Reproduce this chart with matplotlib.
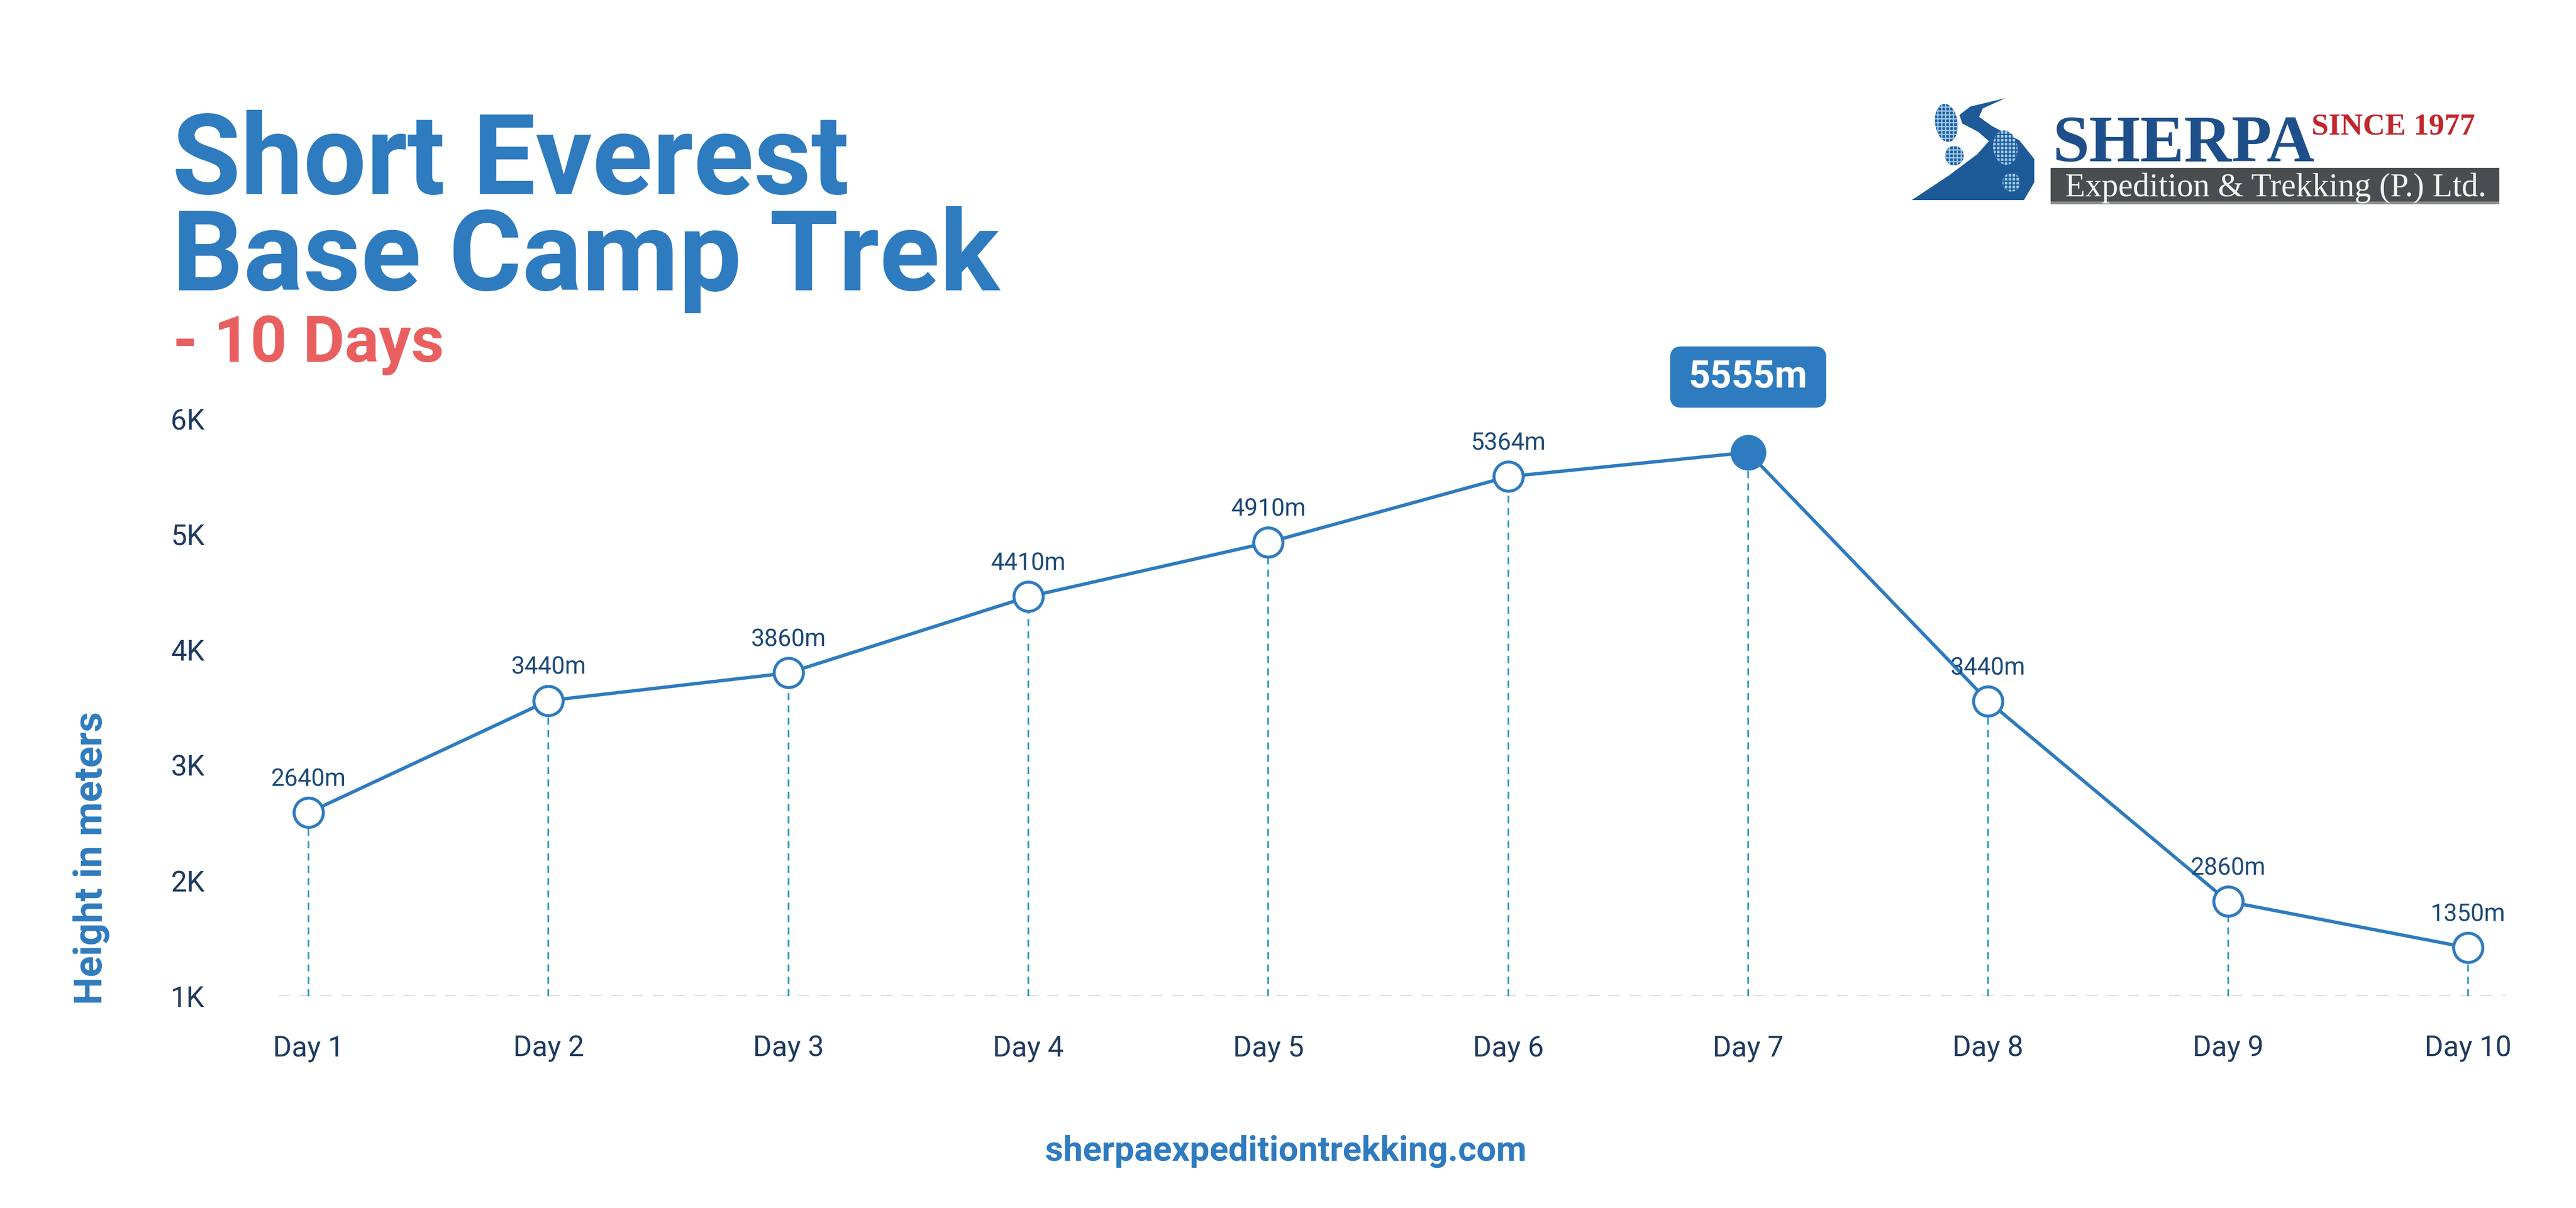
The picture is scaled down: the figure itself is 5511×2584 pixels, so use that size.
import matplotlib
matplotlib.use("Agg")
import matplotlib.pyplot as plt
from matplotlib import transforms as mtransforms
from matplotlib.patches import Ellipse, FancyBboxPatch, Polygon, Rectangle

W, H, DPI = 5511, 2584, 100

# data
days = [f"Day {i}" for i in range(1, 11)]
heights = [2590, 3560, 3800, 4460, 4930, 5500, 5710, 3555, 1820, 1420]
labels = ["2640m", "3440m", "3860m", "4410m", "4910m", "5364m", "5555m",
          "3440m", "2860m", "1350m"]
peak = 6
yticks = [1000, 2000, 3000, 4000, 5000, 6000]
ytick_labels = ["1K", "2K", "3K", "4K", "5K", "6K"]

BLUE = "#2f7bbf"
NAVY = "#1f3a5f"
LABEL = "#1c4a78"
TEAL = "#2a9bbd"
GRID = "#d9d9d9"
RED = "#e95f5f"
ROAD = "#1d5a97"

plt.rcParams["font.family"] = ["Roboto", "DejaVu Sans"]
plt.rcParams["lines.scale_dashes"] = False
plt.rcParams["hatch.linewidth"] = 2.0

fig = plt.figure(figsize=(W / DPI, H / DPI), dpi=DPI)
fig.patch.set_facecolor("white")
# pixel coords measured from the top-left corner
TOP = mtransforms.Affine2D().scale(1, -1).translate(0, H)


def fit(t, target, vertical=False):
    r = fig.canvas.get_renderer()
    bb = t.get_window_extent(r)
    cur = bb.height if vertical else bb.width
    t.set_fontsize(t.get_fontsize() * target / cur)


# ---- chart
ax = fig.add_axes([596 / W, 1 - 2131 / H, (5361 - 596) / W, (2131 - 896) / H])
x = list(range(len(days)))
ax.set_xlim(-0.125, 9.158)
ax.set_ylim(1000, 6000)
for s in ax.spines.values():
    s.set_visible(False)

ax.axhline(1000, color=GRID, lw=3.0, dashes=(18, 14), zorder=1)
ax.vlines(x, 1000, heights, colors=TEAL, lw=2.6, linestyles=(0, (11, 8)), zorder=1)
ax.plot(x, heights, color=BLUE, lw=5.2, zorder=2, solid_capstyle="round")

open_idx = [i for i in x if i != peak]
ax.plot(open_idx, [heights[i] for i in open_idx], "o", ms=45, mfc="white",
        mec=BLUE, mew=4.6, ls="none", zorder=3)
ax.plot([peak], [heights[peak]], "o", ms=54, color=BLUE, zorder=3)

for i in open_idx:
    ax.annotate(labels[i], (i, heights[i]), xytext=(0, 51),
                textcoords="offset points", ha="center", va="center",
                fontsize=37, color=LABEL, zorder=4)

# highlighted peak: rounded badge above the marker
px, py = ax.transData.transform((peak, heights[peak]))
badge = FancyBboxPatch((px - 167, py + 161 - 65.5), 334, 131,
                       boxstyle="round,pad=0,rounding_size=24",
                       transform=mtransforms.IdentityTransform(),
                       fc=BLUE, ec="none", zorder=5, clip_on=False)
ax.add_patch(badge)
ax.annotate(labels[peak], (peak, heights[peak]), xytext=(0, 116),
            textcoords="offset points", ha="center", va="center",
            fontsize=58, fontweight="bold", color="white", zorder=6)

ax.set_xticks(x, days)
ax.set_yticks(yticks, ytick_labels)
ax.tick_params(length=0, labelcolor=NAVY, labelsize=44)
ax.tick_params(axis="x", pad=60)
ax.tick_params(axis="y", pad=114)

ylab = fig.text(196, 1836, "Height in meters", transform=TOP, rotation=90,
                ha="center", va="center", fontsize=61, fontweight="bold", color=BLUE)
fit(ylab, 627, vertical=True)

# ---- title (baseline of the last line)
title = fig.text(368, 621, "Short Everest\nBase Camp Trek", transform=TOP,
                 fontsize=170, fontweight="bold", color=BLUE, va="baseline",
                 linespacing=0.87)
fit(title, 1770)
sub = fig.text(370, 774, "- 10 Days", transform=TOP, fontsize=98,
               fontweight="bold", color=RED, va="baseline")
fit(sub, 580)

# ---- logo (rough redraw)
road = [(4090, 428), (4170, 375), (4230, 330), (4255, 302), (4232, 282),
        (4198, 264), (4192, 246), (4215, 228), (4290, 210),
        (4242, 232), (4234, 250), (4262, 270), (4320, 300), (4352, 340),
        (4352, 390), (4330, 428)]
fig.add_artist(Polygon(road, closed=True, transform=TOP, fc=ROAD, ec="none"))
for (cx, cy, w, h, fc, hc) in [
        (4164, 263, 48, 82, ROAD, "#9cc8ea"),
        (4181, 333, 40, 42, ROAD, "#9cc8ea"),
        (4290, 316, 52, 74, "#9fcbec", ROAD),
        (4303, 390, 38, 40, "#9fcbec", ROAD)]:
    fig.add_artist(Ellipse((cx, cy), w, h, angle=-8, transform=TOP, fc=fc,
                           ec=hc, lw=0, hatch="++"))

fig.add_artist(Rectangle((4387, 359), 960, 78, transform=TOP, fc="#4a4d50", ec="none"))
fig.add_artist(Rectangle((4387, 431), 960, 6, transform=TOP, fc="#8c8c8c", ec="none"))
sh = fig.text(4392, 345, "SHERPA", transform=TOP, family="Liberation Serif",
              fontsize=100, fontweight="bold", color="#1f4f8a", va="baseline")
fit(sh, 560)
since = fig.text(4945, 287, "SINCE 1977", transform=TOP, family="Liberation Serif",
                 fontsize=48, fontweight="bold", color="#c1272d", va="baseline")
fit(since, 350)
ltd = fig.text(4418, 420, "Expedition & Trekking (P.) Ltd.", transform=TOP,
               family="Liberation Serif", fontsize=40, color="#f2f2f2", va="baseline")
fit(ltd, 900)

# ---- footer
foot = fig.text(2751, 2483, "sherpaexpeditiontrekking.com", transform=TOP,
                ha="center", va="baseline", fontsize=50, fontweight="bold", color=BLUE)
fit(foot, 1030)

fig.savefig("out.png", dpi=DPI, facecolor="white")
